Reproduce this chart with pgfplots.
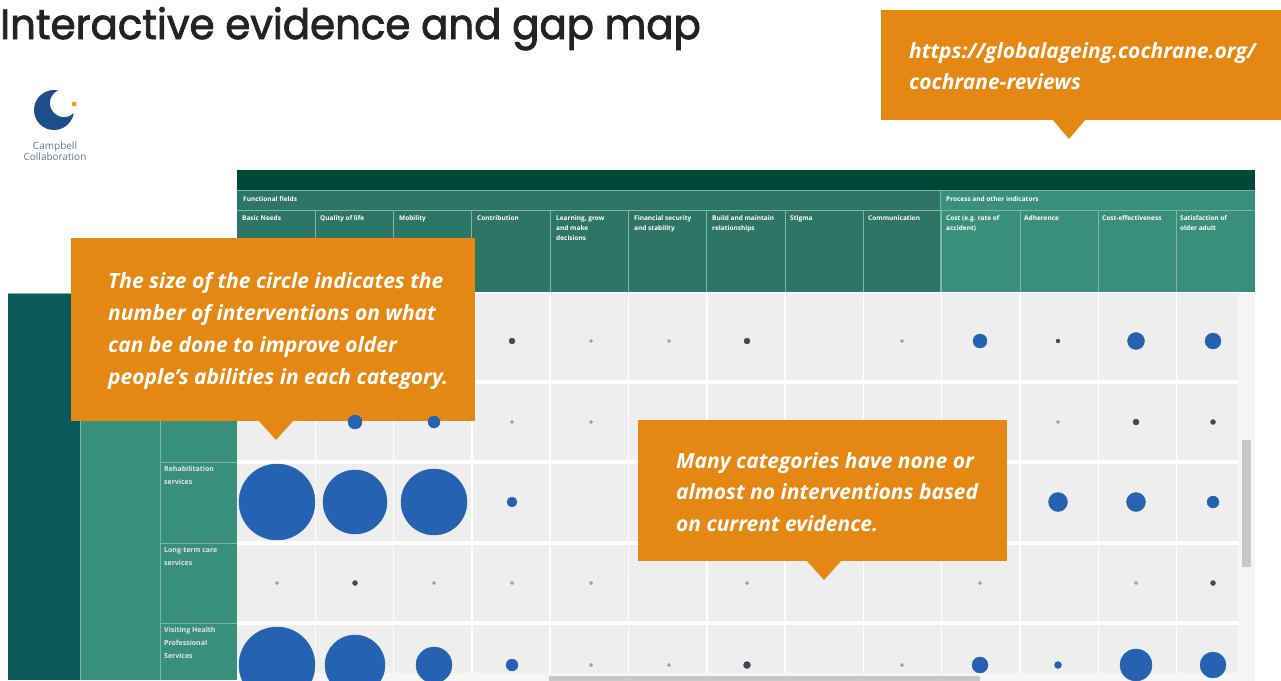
\documentclass[border=0pt]{standalone}
\usepackage{fontspec}
\usepackage{pgfplots}
\usepackage{pgfplotstable}
\pgfplotsset{compat=1.18}
\setmainfont{Open Sans}
\newfontfamily\titlefont{Poppins}[FakeStretch=0.96, FakeBold=2]
\definecolor{callout}{RGB}{229,136,19}
\definecolor{titlegray}{RGB}{35,35,35}
\definecolor{hdrdark}{RGB}{0,72,56}
\definecolor{hdrleft}{RGB}{45,117,100}
\definecolor{hdrright}{RGB}{58,143,122}
\definecolor{hdrline}{RGB}{120,185,165}
\definecolor{rowdark}{RGB}{10,90,92}
\definecolor{rowteal}{RGB}{56,143,124}
\definecolor{gridbg}{RGB}{238,238,238}
\definecolor{bubble}{RGB}{37,98,178}
\definecolor{dotdark}{RGB}{70,72,80}
\definecolor{dotlight}{RGB}{160,160,160}
\definecolor{logoblue}{RGB}{28,78,140}
\definecolor{logoorange}{RGB}{240,160,40}
\definecolor{logotext}{RGB}{105,115,140}
\definecolor{scroll}{RGB}{200,200,200}

% x = cell centre (px), y = row centre (px, downwards), r = radius (px)
\pgfplotstableread{
x y r
980 341 7
1136 341 8.5
1213 341 8
355 422 7
434 422 6
277 502 38
355 502 32
434 502 33
512 502 5
1058 502 9.5
1136 502 9.5
1213 502 6
277 665 38
355 665 30
434 665 18
512 665 6
980 665 8
1058 665 3.5
1136 665 16
1213 665 13
}\bluetab
\pgfplotstableread{
x y r
512 341 3
747 341 3
1058 341 2
1136 422 3
1213 422 2.5
355 583 2.5
1213 583 2.5
747 665 3.5
}\darktab
\pgfplotstableread{
x y r
591 341 1.7
669 341 1.7
902 341 1.7
512 422 1.7
591 422 1.7
1058 422 1.7
277 583 1.7
434 583 1.7
512 583 1.7
591 583 1.7
747 583 1.7
980 583 1.7
1136 583 1.7
591 665 1.7
669 665 1.7
902 665 1.7
}\lighttab

\pgfplotsset{
  bub/.style={scatter, only marks, mark=*, point meta=\thisrow{r},
    scatter/use mapped color={draw=#1, fill=#1},
    visualization depends on={\thisrow{r} \as \rad},
    scatter/@pre marker code/.append style={/tikz/mark size=\rad}},
}
\tikzset{
  hdr/.style={anchor=north west, inner sep=0pt, align=left, text=white,
    font=\fontsize{6.5}{10}\selectfont\bfseries},
  row/.style={anchor=north west, inner sep=0pt, align=left, text=white!90!black,
    font=\fontsize{7}{13}\selectfont\bfseries},
  call/.style={anchor=base west, inner sep=0pt, text=white,
    font=\fontsize{21}{21}\selectfont\bfseries\itshape},
}

\begin{document}
\begin{tikzpicture}
\begin{axis}[
  scale only axis, width=1281pt, height=680pt,
  xmin=0, xmax=1281, ymin=0, ymax=680, y dir=reverse,
  hide axis, clip=false,
]
\coordinate (BL) at (axis cs:0,680);
\coordinate (TR) at (axis cs:1281,0);
\fill[white] (axis cs:0,0) rectangle (axis cs:1281,680);

% title and logo
\node[anchor=base west, inner sep=0pt, text=titlegray,
  font=\titlefont\fontsize{42}{42}\selectfont] at (axis cs:0,39)
  {Interactive evidence and gap map};
\fill[logoblue] (axis cs:54,110) circle (20pt);
\fill[white] (axis cs:64,103) circle (14pt);
\fill[logoorange] (axis cs:74,104) circle (2.5pt);
\node[text=logotext, font=\fontsize{10}{11.5}\selectfont, align=center, inner sep=0pt]
  at (axis cs:55,151) {Campbell\\Collaboration};

% header of the map
\fill[hdrdark] (axis cs:237,170) rectangle (axis cs:1255,190);
\fill[hdrleft] (axis cs:237,190) rectangle (axis cs:940,292);
\fill[hdrright] (axis cs:940,190) rectangle (axis cs:1255,292);
\draw[hdrline, line width=1pt] (axis cs:237,190) -- (axis cs:1255,190);
\draw[hdrline, line width=1pt] (axis cs:237,210) -- (axis cs:1255,210);
\draw[hdrline, line width=1pt] (axis cs:940,190) -- (axis cs:940,292);
\pgfplotsinvokeforeach{1,...,12}{
  \draw[hdrline, line width=1pt] (axis cs:{237+78.3*#1},210) -- (axis cs:{237+78.3*#1},292);
}
\node[hdr] at (axis cs:243,196) {Functional fields};
\node[hdr] at (axis cs:946,196) {Process and other indicators};
\node[hdr] at (axis cs:242,215) {Basic Needs};
\node[hdr] at (axis cs:320,215) {Quality of life};
\node[hdr] at (axis cs:399,215) {Mobility};
\node[hdr] at (axis cs:477,215) {Contribution};
\node[hdr] at (axis cs:556,215) {Learning, grow\\and make\\decisions};
\node[hdr] at (axis cs:634,215) {Financial security\\and stability};
\node[hdr] at (axis cs:712,215) {Build and maintain\\relationships};
\node[hdr] at (axis cs:790,215) {Stigma};
\node[hdr] at (axis cs:868,215) {Communication};
\node[hdr] at (axis cs:946,215) {Cost (e.g. rate of\\accident)};
\node[hdr] at (axis cs:1024,215) {Adherence};
\node[hdr] at (axis cs:1102,215) {Cost-effectiveness};
\node[hdr] at (axis cs:1180,215) {Satisfaction of\\older adult};

% row headers
\fill[rowdark] (axis cs:8,293) rectangle (axis cs:80,680);
\fill[rowteal] (axis cs:80,293) rectangle (axis cs:237,680);
\draw[hdrline, line width=0.8pt] (axis cs:8,293) -- (axis cs:237,293);
\draw[hdrline, line width=0.8pt] (axis cs:80,293) -- (axis cs:80,680);
\draw[hdrline, line width=0.8pt] (axis cs:160,293) -- (axis cs:160,680);
\draw[hdrline, line width=0.8pt] (axis cs:160,382) -- (axis cs:237,382);
\draw[hdrline, line width=0.8pt] (axis cs:160,462) -- (axis cs:237,462);
\draw[hdrline, line width=0.8pt] (axis cs:160,543) -- (axis cs:237,543);
\draw[hdrline, line width=0.8pt] (axis cs:160,623) -- (axis cs:237,623);
\node[row] at (axis cs:164,466) {Rehabilitation\\services};
\node[row] at (axis cs:164,547) {Long-term care\\services};
\node[row] at (axis cs:164,627) {Visiting Health\\Professional\\Services};

% grid body
\fill[gridbg] (axis cs:237,293) rectangle (axis cs:1238,680);
\pgfplotsinvokeforeach{1,...,12}{
  \draw[white, line width=1.5pt] (axis cs:{237+78.3*#1},293) -- (axis cs:{237+78.3*#1},680);
}
\pgfplotsinvokeforeach{382,462,543,623}{
  \draw[white, line width=3.5pt] (axis cs:237,#1) -- (axis cs:1238,#1);
}
\fill[white!96!black] (axis cs:1238,293) rectangle (axis cs:1255,680);
\fill[scroll] (axis cs:1242,440) rectangle (axis cs:1251,567);

% bubbles
\addplot[bub=dotlight] table[x=x, y=y] {\lighttab};
\addplot[bub=dotdark] table[x=x, y=y] {\darktab};
\addplot[bub=bubble] table[x=x, y=y] {\bluetab};

% horizontal scroll bar
\fill[white!96!black] (axis cs:237,673) rectangle (axis cs:1255,690);
\fill[scroll] (axis cs:549,676) rectangle (axis cs:980,690);

% callouts
\fill[callout] (axis cs:881,10) rectangle (axis cs:1281,120);
\fill[callout] (axis cs:1052,119) -- (axis cs:1086,119) -- (axis cs:1069,139) -- cycle;
\node[call] at (axis cs:909,58) {https://globalageing.cochrane.org/};
\node[call] at (axis cs:909,89) {cochrane-reviews};

\fill[callout] (axis cs:71,238) rectangle (axis cs:475,421);
\fill[callout] (axis cs:258,420) -- (axis cs:294,420) -- (axis cs:276,440) -- cycle;
\node[call] at (axis cs:108,288) {The size of the circle indicates the};
\node[call] at (axis cs:108,320) {number of interventions on what};
\node[call] at (axis cs:108,352) {can be done to improve older};
\node[call] at (axis cs:108,384) {people’s abilities in each category.};

\fill[callout] (axis cs:638,420) rectangle (axis cs:1007,561);
\fill[callout] (axis cs:806,560) -- (axis cs:842,560) -- (axis cs:824,580) -- cycle;
\node[call] at (axis cs:676,468) {Many categories have none or};
\node[call] at (axis cs:676,499) {almost no interventions based};
\node[call] at (axis cs:676,531) {on current evidence.};
\end{axis}
\pgfresetboundingbox
\useasboundingbox (BL) rectangle (TR);
\end{tikzpicture}
\end{document}
